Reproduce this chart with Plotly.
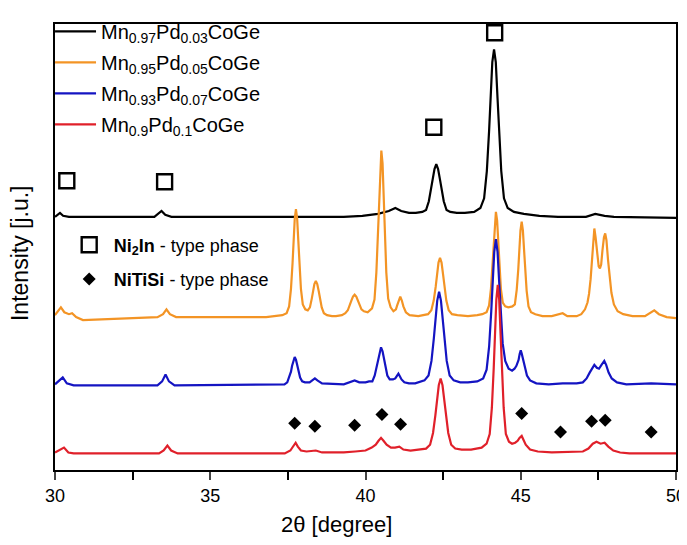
import plotly.graph_objects as go

# ---------------- data: (2theta [degree], intensity [a.u.]) ----------------
names = ["Mn<sub>0.97</sub>Pd<sub>0.03</sub>CoGe",
         "Mn<sub>0.95</sub>Pd<sub>0.05</sub>CoGe",
         "Mn<sub>0.93</sub>Pd<sub>0.07</sub>CoGe",
         "Mn<sub>0.9</sub>Pd<sub>0.1</sub>CoGe"]
colors = ["#000000", "#F39425", "#1414C2", "#E0202A"]

black_points = [
    (30.0, 260), (30.08, 262), (30.16, 264), (30.26, 261), (30.45, 260), (33.2, 260), (33.33, 263),
    (33.43, 266), (33.55, 262), (33.75, 260), (39.3, 260), (39.9, 261), (40.4, 263), (40.75, 266),
    (40.96, 269), (41.15, 266), (41.4, 264), (41.62, 264), (41.83, 265), (41.95, 267), (42.04, 276),
    (42.115, 288), (42.165, 299), (42.222, 309), (42.28, 314), (42.338, 309), (42.395, 299),
    (42.445, 288), (42.52, 276), (42.61, 267), (42.73, 265), (42.94, 264), (43.2, 264), (43.5, 265),
    (43.7, 269), (43.82, 279), (43.908, 307), (43.98, 348), (44.028, 382), (44.084, 419), (44.14, 432),
    (44.196, 419), (44.252, 382), (44.30, 348), (44.372, 307), (44.46, 279), (44.58, 269), (44.78, 265),
    (45.1, 263), (45.6, 261), (46.2, 260), (47.1, 260), (47.4, 263), (47.7, 261), (48.0, 260), (50.0, 259)]

orange_points = [
    (30.0, 159), (30.1, 163), (30.19, 167), (30.3, 162), (30.45, 160), (30.55, 161), (30.68, 157),
    (30.9, 154), (31.5, 155), (32.5, 156), (33.3, 157), (33.48, 160), (33.59, 165), (33.7, 160),
    (33.9, 157), (36.8, 157), (37.32, 159), (37.46, 161), (37.54, 168), (37.60, 186), (37.65, 212),
    (37.683, 235), (37.721, 258), (37.76, 268), (37.799, 258), (37.837, 235), (37.87, 212), (37.92, 186),
    (37.98, 170), (38.06, 165), (38.14, 164), (38.21, 167), (38.27, 176), (38.309, 184), (38.354, 191),
    (38.40, 194), (38.446, 191), (38.491, 184), (38.53, 176), (38.59, 167), (38.66, 161), (38.76, 159),
    (38.92, 158), (39.05, 158), (39.24, 159), (39.35, 161), (39.43, 164), (39.5, 169), (39.545, 174),
    (39.597, 178), (39.65, 180), (39.703, 178), (39.755, 174), (39.8, 169), (39.87, 165), (39.95, 163),
    (40.07, 162), (40.21, 166), (40.29, 175), (40.35, 203), (40.40, 244), (40.433, 279), (40.471, 315),
    (40.51, 328), (40.549, 315), (40.587, 279), (40.62, 244), (40.67, 203), (40.73, 176), (40.81, 167),
    (40.9, 163), (40.98, 165), (41.02, 169), (41.07, 174), (41.12, 178), (41.17, 174), (41.22, 168),
    (41.3, 162), (41.42, 159), (41.7, 158), (41.84, 159), (42.015, 160), (42.12, 164), (42.197, 174),
    (42.26, 188), (42.302, 201), (42.351, 213), (42.40, 218), (42.449, 213), (42.498, 201), (42.54, 188),
    (42.603, 174), (42.68, 164), (42.785, 160), (42.96, 159), (43.3, 158), (43.6, 159), (43.76, 160),
    (43.9, 162), (43.98, 169), (44.04, 186), (44.09, 212), (44.123, 234), (44.161, 256), (44.20, 265),
    (44.239, 256), (44.277, 234), (44.31, 212), (44.36, 186), (44.42, 172), (44.50, 168), (44.6, 167),
    (44.73, 168), (44.81, 170), (44.87, 185), (44.92, 206), (44.953, 226), (44.991, 246), (45.03, 255),
    (45.069, 246), (45.107, 226), (45.14, 206), (45.19, 184), (45.25, 168), (45.33, 162), (45.47, 160),
    (45.7, 158), (46.0, 158), (46.2, 160), (46.35, 161), (46.5, 158), (46.8, 158), (46.95, 160),
    (47.07, 165), (47.15, 172), (47.2, 181), (47.25, 196), (47.29, 214), (47.33, 236), (47.37, 248),
    (47.41, 239), (47.46, 221), (47.51, 209), (47.55, 207), (47.59, 211), (47.63, 225), (47.68, 239),
    (47.72, 243), (47.76, 236), (47.81, 216), (47.86, 198), (47.92, 182), (48.0, 170), (48.12, 163),
    (48.3, 160), (48.6, 158), (49.0, 158), (49.15, 161), (49.3, 164), (49.45, 160), (49.7, 157), (50.0, 156)]

blue_points = [
    (30.0, 88), (30.12, 91), (30.25, 95), (30.38, 89), (30.6, 87), (33.3, 87), (33.45, 91), (33.56, 98),
    (33.67, 91), (33.85, 87), (37.24, 88), (37.39, 88), (37.48, 90), (37.546, 95), (37.60, 101),
    (37.636, 107), (37.678, 113), (37.72, 116), (37.762, 113), (37.804, 107), (37.84, 101), (37.894, 95),
    (37.96, 91), (38.05, 90), (38.2, 90), (38.3, 92), (38.37, 94), (38.45, 92), (38.6, 89), (39.3, 88),
    (39.5, 90), (39.65, 92), (39.8, 90), (40.0, 90), (40.115, 91), (40.22, 91), (40.297, 97),
    (40.36, 106), (40.402, 114), (40.451, 122), (40.5, 126), (40.549, 122), (40.598, 114), (40.64, 106),
    (40.703, 97), (40.78, 93), (40.885, 93), (40.96, 94), (41.01, 97), (41.06, 99), (41.11, 96),
    (41.16, 93), (41.25, 90), (41.4, 89), (41.6, 89), (41.69, 90), (41.90, 92), (42.03, 97),
    (42.125, 112), (42.20, 135), (42.25, 154), (42.31, 174), (42.37, 183), (42.43, 174), (42.49, 154),
    (42.54, 135), (42.615, 112), (42.71, 97), (42.84, 92), (43.05, 90), (43.3, 90), (43.6, 91),
    (43.79, 94), (43.90, 103), (43.982, 127), (44.05, 163), (44.095, 193), (44.147, 224), (44.20, 237),
    (44.253, 224), (44.305, 193), (44.35, 163), (44.418, 130), (44.5, 112), (44.61, 104), (44.72, 102),
    (44.8, 104), (44.86, 107), (44.93, 113), (44.965, 119), (45.0, 123), (45.035, 119), (45.07, 113),
    (45.14, 105), (45.2, 97), (45.3, 92), (45.5, 89), (45.9, 88), (46.35, 89), (46.8, 89), (47.0, 90),
    (47.12, 94), (47.22, 100), (47.3, 105), (47.37, 108), (47.45, 105), (47.52, 104), (47.6, 108),
    (47.65, 111), (47.69, 112), (47.75, 108), (47.83, 100), (47.93, 94), (48.1, 90), (48.4, 88),
    (49.2, 89), (50.0, 88)]

red_points = [
    (30.0, 18), (30.15, 21), (30.29, 23), (30.43, 18), (30.6, 17), (33.35, 17), (33.5, 20), (33.62, 25),
    (33.74, 20), (33.95, 17), (37.4, 17), (37.58, 20), (37.68, 25), (37.75, 28), (37.82, 24), (37.92, 20),
    (38.1, 19), (38.4, 20), (38.6, 18), (39.3, 18), (39.67, 19), (40.0, 20), (40.2, 23), (40.33, 26),
    (40.42, 30), (40.5, 33), (40.58, 30), (40.68, 26), (40.82, 23), (40.95, 23), (41.09, 24), (41.22, 21),
    (41.45, 20), (41.74, 21), (41.95, 22), (42.08, 26), (42.175, 38), (42.25, 56), (42.30, 71),
    (42.36, 87), (42.42, 94), (42.48, 87), (42.54, 71), (42.59, 56), (42.665, 38), (42.76, 26),
    (42.89, 22), (43.1, 21), (43.4, 21), (43.74, 23), (43.90, 27), (44.0, 37), (44.07, 64), (44.13, 105),
    (44.169, 139), (44.214, 175), (44.26, 190), (44.306, 175), (44.351, 139), (44.39, 105), (44.45, 64),
    (44.52, 37), (44.62, 29), (44.72, 27), (44.82, 28), (44.9, 30), (44.96, 33), (45.03, 35), (45.09, 31),
    (45.16, 26), (45.3, 21), (45.55, 19), (46.0, 18), (47.0, 19), (47.18, 22), (47.32, 27), (47.44, 29),
    (47.57, 27), (47.7, 28), (47.82, 24), (47.98, 20), (48.2, 18), (48.5, 17), (50.0, 17)]

# phase reflection markers
ni2in_x = [30.38, 33.53, 42.2, 44.16]
ni2in_y = [297, 296, 352, 449]
nitisi_x = [37.72, 38.37, 39.65, 40.53, 41.13, 45.03, 46.28, 47.28, 47.72, 49.2]
nitisi_y = [48, 45, 46, 57, 47, 58, 39, 50, 51, 39]

x_ticks = [30, 35, 40, 45, 50]
x_title = "2θ [degree]"
y_title = "Intensity [j.u.]"

# ---------------- figure ----------------
FONT = "Liberation Sans, Arial, sans-serif"
fig = go.Figure()
for i, pts in enumerate([black_points, orange_points, blue_points, red_points]):
    xs = [p[0] for p in pts]
    ys = [p[1] for p in pts]
    fig.add_trace(go.Scatter(x=xs, y=ys, mode="lines", name=names[i],
                             line=dict(color=colors[i], width=2.2),
                             legend="legend", legendgroup=str(i)))

fig.add_trace(go.Scatter(x=ni2in_x, y=ni2in_y, mode="markers",
                         name="<b>Ni<sub>2</sub>In</b> - type phase",
                         marker=dict(symbol="square-open", size=15, color="black",
                                     line=dict(width=2.4, color="black")),
                         legend="legend2", legendgroup="a"))
fig.add_trace(go.Scatter(x=nitisi_x, y=nitisi_y, mode="markers",
                         name="<b>NiTiSi</b> - type phase",
                         marker=dict(symbol="diamond", size=10, color="black"),
                         legend="legend2", legendgroup="b"))

# the page body has an 8 px margin, so the figure is drawn 8 px smaller and margins shifted
fig.update_layout(
    width=679, height=537,
    margin=dict(l=47, r=11, t=4, b=75),
    paper_bgcolor="white", plot_bgcolor="white",
    font=dict(family=FONT, color="black"),
    showlegend=True,
    legend=dict(x=-0.008, y=1.027, xanchor="left", yanchor="top",
                bgcolor="rgba(0,0,0,0)", font=dict(size=20, family=FONT),
                tracegroupgap=2, itemwidth=41),
    legend2=dict(x=0.0156, y=0.546, xanchor="left", yanchor="top",
                 bgcolor="rgba(0,0,0,0)", font=dict(size=18, family=FONT),
                 tracegroupgap=8, itemwidth=39),
    xaxis=dict(range=[30, 50], tickvals=x_ticks, ticks="outside", ticklen=8, tickwidth=2,
               showline=True, linewidth=2, linecolor="black", mirror=True, automargin=False,
               showgrid=False, zeroline=False, tickfont=dict(size=18),
               ticklabeloverflow="allow",
               minor=dict(dtick=2.5, ticks="outside", ticklen=8, tickwidth=2, tickcolor="black")),
    yaxis=dict(range=[0, 458], showticklabels=False, ticks="", automargin=False,
               showline=True, linewidth=2, linecolor="black", mirror=True,
               showgrid=False, zeroline=False),
    annotations=[
        dict(text=x_title, xref="paper", yref="paper", x=0.454, y=0, xanchor="center",
             yanchor="top", yshift=-40, showarrow=False, font=dict(size=22, family=FONT)),
        dict(text=y_title, xref="paper", yref="paper", x=-0.056, y=0.487, xanchor="center",
             yanchor="middle", textangle=-90, showarrow=False, font=dict(size=23, family=FONT)),
    ],
)

fig.write_html("out.html")
